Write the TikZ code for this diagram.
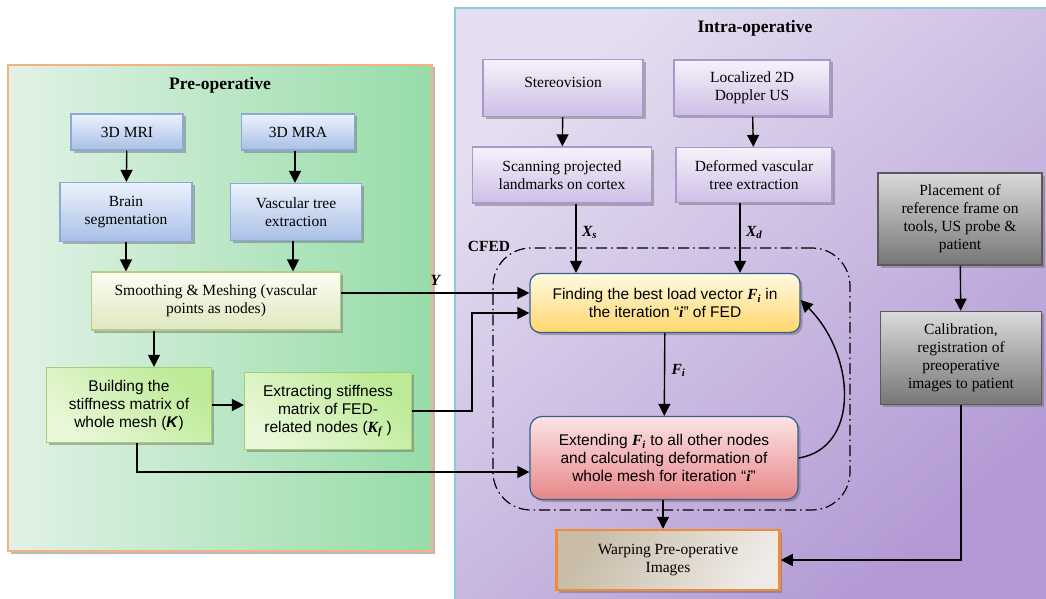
\documentclass[tikz,border=0pt]{standalone}
\usepackage{fontspec}
\setmainfont{Liberation Serif}
\newfontfamily\arialf{Liberation Sans}
\usetikzlibrary{shadows,calc,arrows.meta}
\definecolor{preB}{RGB}{244,178,130}
\definecolor{preL}{RGB}{226,242,230}
\definecolor{preR}{RGB}{150,220,168}
\definecolor{intraB}{RGB}{140,205,216}
\definecolor{intraL}{RGB}{228,222,240}
\definecolor{intraR}{RGB}{178,152,212}
\definecolor{blueD}{RGB}{140,168,214}
\definecolor{blueT}{RGB}{236,242,252}
\definecolor{blueBt}{RGB}{168,192,230}
\definecolor{smD}{RGB}{182,204,128}
\definecolor{smT}{RGB}{252,253,242}
\definecolor{smBt}{RGB}{222,232,192}
\definecolor{grD}{RGB}{168,204,112}
\definecolor{grA}{RGB}{188,234,150}
\definecolor{grC}{RGB}{232,248,216}
\definecolor{puD}{RGB}{170,152,204}
\definecolor{puT}{RGB}{245,242,250}
\definecolor{puBt}{RGB}{206,190,230}
\definecolor{fdD}{RGB}{52,96,138}
\definecolor{fdT}{RGB}{255,250,226}
\definecolor{fdBt}{RGB}{255,214,108}
\definecolor{exT}{RGB}{251,228,230}
\definecolor{exBt}{RGB}{232,134,136}
\definecolor{waD}{RGB}{240,140,50}
\definecolor{waL}{RGB}{200,188,168}
\definecolor{waR}{RGB}{238,234,230}
\definecolor{gyD}{RGB}{90,90,90}
\definecolor{gyT}{RGB}{218,218,218}
\definecolor{gyBt}{RGB}{118,118,118}
\newcommand\bi[1]{{\rmfamily\bfseries\itshape #1}}
\tikzset{
 shad/.style={drop shadow={shadow xshift=2.5pt, shadow yshift=-2.5pt, opacity=0.45, fill=black!60}},
 box/.style={draw, line width=1.2pt, align=center, inner sep=2pt, font=\fontsize{15.5}{18}\selectfont, shad},
 bluebox/.style={box, draw=blueD, top color=blueT, bottom color=blueBt},
 smbox/.style={box, draw=smD, top color=smT, bottom color=smBt},
 grbox/.style={box, draw=grD, top color=grA, bottom color=grC, shading angle=-40, font=\arialf\fontsize{15.5}{18}\selectfont},
 pubox/.style={box, draw=puD, top color=puT, bottom color=puBt},
 fdbox/.style={box, draw=fdD, rounded corners=10pt, top color=fdT, bottom color=fdBt, font=\arialf\fontsize{15.5}{18}\selectfont},
 exbox/.style={box, draw=fdD, rounded corners=12pt, top color=exT, bottom color=exBt, font=\arialf\fontsize{15.5}{18}\selectfont},
 wabox/.style={box, draw=waD, line width=2.5pt, left color=waL, right color=waR, shading angle=60},
 gybox/.style={box, draw=gyD, line width=1.5pt, top color=gyT, bottom color=gyBt},
 ttl/.style={font=\bfseries\fontsize{17.5}{20}\selectfont},
 lbl/.style={font=\bfseries\itshape\fontsize{15.5}{18}\selectfont},
 arr/.style={-{Triangle[length=12pt,width=12pt]}, line width=1.4pt},
 dashdot/.style={line width=1.2pt, dash pattern=on 11pt off 4pt on 1.5pt off 4pt}
}
\begin{document}
\begin{tikzpicture}[x=1pt,y=-1pt]
\clip (0,0) rectangle (1046,599);
\fill[white] (0,0) rectangle (1046,599);
% panels
\path[draw=preB, line width=2pt, left color=preL, right color=preR, shad] (8,65) rectangle (432,551);
\path[draw=intraB, line width=2pt, top color=intraL, bottom color=intraR, shading angle=40] (455,8) rectangle (1056,610);
\node[ttl] (pretitle) at (220,85) {Pre-operative};
\node[ttl] (intratitle) at (755,28) {Intra-operative};
% CFED
\node[draw, dashdot, rounded corners=38pt, minimum width=357pt, minimum height=262pt] (cfed) at (671.5,379) {};
\node[font=\bfseries\fontsize{15.5}{18}\selectfont] (cfedlabel) at (489,246) {CFED};
% pre-operative nodes
\node[bluebox, minimum width=112pt, minimum height=36pt] (mri) at (127,132) {3D MRI};
\node[bluebox, minimum width=113pt, minimum height=36pt] (mra) at (298,132) {3D MRA};
\node[bluebox, minimum width=132pt, minimum height=59pt] (seg) at (126,212) {Brain\\segmentation};
\node[bluebox, minimum width=131pt, minimum height=57pt] (vas) at (296,212) {Vascular tree\\extraction};
\node[smbox, minimum width=249pt, minimum height=58pt] (smooth) at (216,301) {Smoothing \& Meshing (vascular\\points as nodes)};
\node[grbox, minimum width=165pt, minimum height=75pt] (build) at (129,405) {Building the\\stiffness matrix of\\whole mesh (\textbf{\textit{K}})};
\node[grbox, minimum width=167pt, minimum height=77pt] (extract) at (328,411) {Extracting stiffness\\matrix of FED-\\related nodes (\bi{K}\textsubscript{\bi{f}} )};
% intra-operative nodes
\node[pubox, minimum width=160pt, minimum height=57pt, text depth=12pt] (stereo) at (563,88) {Stereovision};
\node[pubox, minimum width=156pt, minimum height=56pt] (doppler) at (752,88) {Localized 2D\\Doppler US};
\node[pubox, minimum width=179pt, minimum height=56pt] (scan) at (562,175) {Scanning projected\\landmarks on cortex};
\node[pubox, minimum width=156pt, minimum height=55pt] (deform) at (754,175) {Deformed vascular\\tree extraction};
\node[fdbox, minimum width=270pt, minimum height=59pt] (find) at (665,303) {Finding the best load vector \bi{F}\textsubscript{\bi{i}} in\\the iteration “\bi{i}” of FED};
\node[exbox, minimum width=268pt, minimum height=83pt] (ext) at (664,458) {Extending \bi{F}\textsubscript{\bi{i}} to all other nodes\\and calculating deformation of\\whole mesh for iteration “\bi{i}”};
\node[wabox, minimum width=223pt, minimum height=60pt] (warp) at (668,560) {Warping Pre-operative\\Images};
\node[gybox, minimum width=164pt, minimum height=92pt] (place) at (960,219) {Placement of\\reference frame on\\tools, US probe \&\\patient};
\node[gybox, minimum width=161pt, minimum height=93pt] (calib) at (961,358) {Calibration,\\registration of\\preoperative\\images to patient};
% connectors
\draw[arr] (mri) -- (seg);
\draw[arr] ([xshift=-3pt]mra.south) -- ([xshift=-3pt]mra.south |- vas.north);
\draw[arr] (seg.south) -- (seg.south |- smooth.north);
\draw[arr] ([xshift=-3pt]vas.south) -- ([xshift=-3pt]vas.south |- smooth.north);
\draw[arr] ([xshift=25pt]build.north |- smooth.south) -- ([xshift=25pt]build.north);
\draw[arr] (build.east) -- (build.east -| extract.west);
\draw[arr] ([xshift=8pt]build.south) |- ([yshift=-14pt]ext.west);
\draw[arr] (extract.east) -- ++(60,0) |- ([yshift=-10pt]find.west);
\draw[arr] ([yshift=8pt]smooth.east) -- ([yshift=8pt]smooth.east -| find.west) node[lbl, pos=0.5, above=3pt] {Y};
\draw[arr] (stereo) -- (scan);
\draw[arr] (doppler) -- (deform);
\draw[arr] ([xshift=14pt]scan.south) -- ([xshift=14pt]scan.south |- find.north) node[lbl, pos=0.42, right=2pt] {X\textsubscript{s}};
\draw[arr] ([xshift=-14pt]deform.south) -- ([xshift=-14pt]deform.south |- find.north) node[lbl, pos=0.42, right=2pt] {X\textsubscript{d}};
\draw[arr] (find) -- (ext) node[lbl, pos=0.45, right=3pt] {F\textsubscript{i}};
\draw[arr] (ext.east) .. controls +(62,-10) and +(55,55) .. ([yshift=3pt]find.east);
\draw[arr] ([xshift=-1pt]ext.south) -- ([xshift=-1pt]ext.south |- warp.north);
\draw[arr] (place) -- (calib);
\draw[arr] (calib.south) |- (warp.east);
\end{tikzpicture}
\end{document}
